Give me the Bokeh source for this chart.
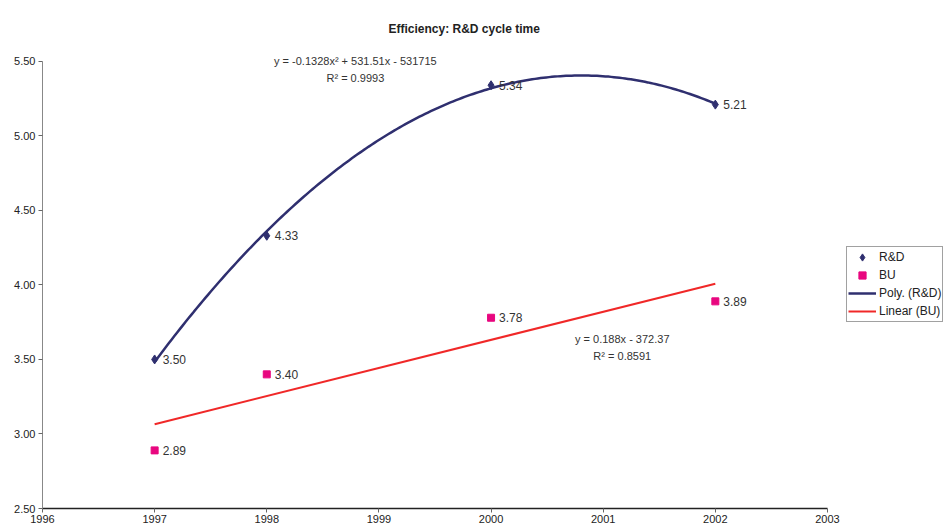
import numpy as np
from bokeh.plotting import figure
from bokeh.models import ColumnDataSource, Legend, LegendItem, Range1d, FixedTicker, Title, Label
from bokeh.embed import file_html
from bokeh.resources import INLINE
from bokeh.core.properties import value

# ---- data ----
years_rd = [1997, 1998, 2000, 2002]
rd_values = [3.50, 4.33, 5.34, 5.21]
years_bu = [1997, 1998, 2000, 2002]
bu_values = [2.89, 3.40, 3.78, 3.89]
x_ticks = [1996, 1997, 1998, 1999, 2000, 2001, 2002, 2003]
y_ticks = [2.50, 3.00, 3.50, 4.00, 4.50, 5.00, 5.50]
poly_eq = ["y = -0.1328x\u00b2 + 531.51x - 531715", "R\u00b2 = 0.9993"]
lin_eq = ["y = 0.188x - 372.37", "R\u00b2 = 0.8591"]

NAVY = "#2f2f6f"
MAGENTA = "#e8077f"
RED = "#f02828"
FONT = "Liberation Sans"

W, H = 947, 531
p = figure(width=W, height=H, output_backend="svg", toolbar_location=None,
           x_range=Range1d(1996, 1996 + 905 / 112.14), y_range=Range1d(2.5, 5.6),
           min_border_left=42, min_border_right=0, min_border_top=46, min_border_bottom=23)
p.title = Title(text="Efficiency: R&D cycle time", align="left",
                text_font=FONT, text_font_size="12px", text_font_style="bold",
                text_color="#222222", offset=346, standoff=22)
p.outline_line_color = None
p.xgrid.visible = False
p.ygrid.visible = False

# trend lines computed from the data
xr = np.array(years_rd, dtype=float)
c2 = np.polyfit(xr - 2000, rd_values, 2)
xs = np.linspace(min(years_rd), max(years_rd), 200)
poly_line = p.line(xs, np.polyval(c2, xs - 2000), line_color=NAVY, line_width=2.5)

xb = np.array(years_bu, dtype=float)
c1 = np.polyfit(xb - 2000, bu_values, 1)
xl = np.array([min(years_bu), max(years_bu)], dtype=float)
lin_line = p.line(xl, np.polyval(c1, xl - 2000), line_color=RED, line_width=2)

src_rd = ColumnDataSource(dict(x=years_rd, y=rd_values, lab=["%.2f" % v for v in rd_values]))
src_bu = ColumnDataSource(dict(x=years_bu, y=bu_values, lab=["%.2f" % v for v in bu_values]))

rd_r = p.scatter("x", "y", source=src_rd, marker="diamond", size=9, fill_color=NAVY, line_color=NAVY)
bu_r = p.scatter("x", "y", source=src_bu, marker="square", size=7, fill_color=MAGENTA, line_color=MAGENTA)

for src in (src_rd, src_bu):
    p.text("x", "y", text="lab", source=src, x_offset=8, text_baseline="middle",
           text_font=value(FONT), text_font_size="12px", text_color="#333333")

# equations
for i, t in enumerate(poly_eq):
    p.add_layout(Label(x=1998.79, y=5.5, text=t, y_offset=-17 * i, text_align="center",
                       text_baseline="middle", text_font=FONT, text_font_size="11px",
                       text_color="#333333"))
for i, t in enumerate(lin_eq):
    p.add_layout(Label(x=2001.17, y=3.634, text=t, y_offset=-17 * i, text_align="center",
                       text_baseline="middle", text_font=FONT, text_font_size="11px",
                       text_color="#333333"))

# axes
p.xaxis.ticker = FixedTicker(ticks=x_ticks)
p.xaxis.bounds = (1996, 2003)
p.xaxis.major_label_overrides = {t: str(t) for t in x_ticks}
p.xaxis.axis_line_color = "#222222"
p.xaxis.axis_line_width = 1.5
p.xaxis.major_tick_out = 4
p.xaxis.major_tick_in = 0
p.xaxis.minor_tick_line_color = None
p.xaxis.major_tick_line_color = "#666666"
p.xaxis.major_label_standoff = 2
p.xaxis.major_label_text_font = FONT
p.xaxis.major_label_text_font_size = "11px"
p.xaxis.major_label_text_color = "#222222"

p.yaxis.ticker = FixedTicker(ticks=y_ticks)
p.yaxis.bounds = (2.5, 5.5)
p.yaxis.major_label_overrides = {t: "%.2f" % t for t in y_ticks}
p.yaxis.axis_line_color = "#888888"
p.yaxis.major_tick_line_color = "#666666"
p.yaxis.major_tick_out = 4
p.yaxis.major_tick_in = 0
p.yaxis.minor_tick_line_color = None
p.yaxis.major_label_standoff = 3
p.yaxis.major_label_text_font = FONT
p.yaxis.major_label_text_font_size = "11px"
p.yaxis.major_label_text_color = "#222222"

legend = Legend(items=[
    LegendItem(label="R&D", renderers=[rd_r]),
    LegendItem(label="BU", renderers=[bu_r]),
    LegendItem(label="Poly. (R&D)", renderers=[poly_line]),
    LegendItem(label="Linear (BU)", renderers=[lin_line]),
], location=(804, 186), padding=1, spacing=0, glyph_width=28, glyph_height=18,
   label_standoff=3, label_text_font=FONT, label_text_font_size="12px",
   label_text_color="#222222", border_line_color="#444444", border_line_width=1,
   label_height=18, margin=0)
p.add_layout(legend, "center")

open("out.html", "w").write(file_html(p, INLINE))
